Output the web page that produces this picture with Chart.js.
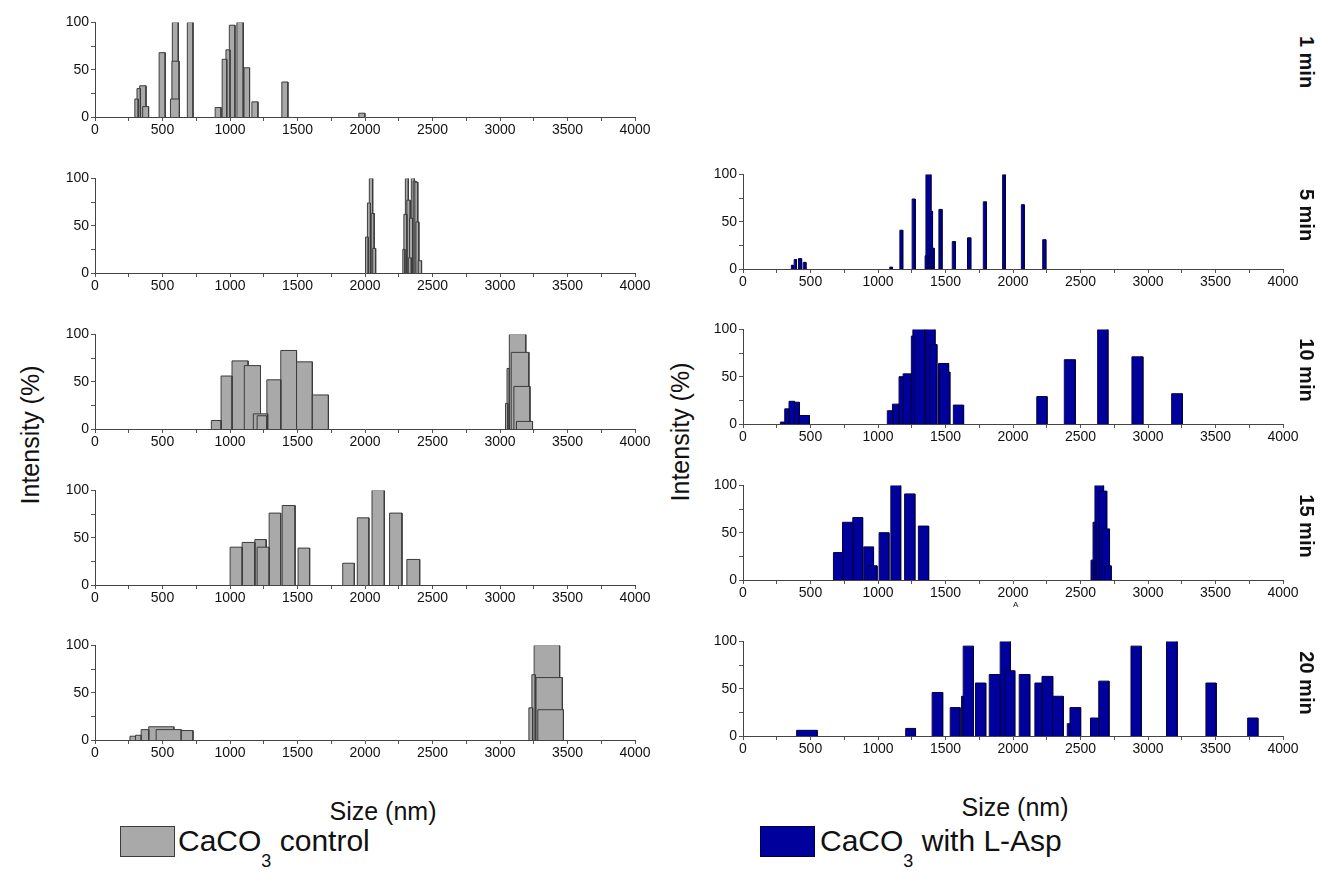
<!DOCTYPE html>
<html>
<head>
<meta charset="utf-8">
<script src="https://cdn.jsdelivr.net/npm/chart.js@4.4.1/dist/chart.umd.min.js"></script>
<style>
  html, body { margin: 0; padding: 0; background: #ffffff; }
  body { width: 1320px; height: 890px; position: relative; overflow: hidden; font-family: "Liberation Sans", Arial, sans-serif; color: #111; }
  canvas { position: absolute; }
  .lbl { position: absolute; white-space: nowrap; }
  .ylab { font-size: 25px; transform: translate(-50%, -50%) rotate(-90deg); }
  .xlab { font-size: 25px; transform: translate(-50%, -50%); }
  .time { font-size: 20px; font-weight: bold; transform: translate(-50%, -50%) rotate(90deg); }
  .leg { font-size: 30px; }
  .leg sub { font-size: 18px; position: relative; top: 16px; vertical-align: baseline; }
  .swatch { position: absolute; box-sizing: border-box; }
</style>
</head>
<body>
<script>
// ---------------- DATA ----------------
// Size axis ticks (nm) and intensity ticks (%)
const sizeTicks = [0, 500, 1000, 1500, 2000, 2500, 3000, 3500, 4000];
const intensityTicks = [0, 50, 100];
const timeLabels = ['1 min', '5 min', '10 min', '15 min', '20 min'];

// CaCO3 control: bin start (nm), bin end (nm), intensity (%)
const ctrl1From = [295, 311, 331, 353, 475, 559, 570, 573, 684, 890, 942, 970, 995, 1051, 1104, 1162, 1384, 1954];
const ctrl1To   = [320, 336, 378, 397, 520, 625, 623, 617, 726, 934, 976, 1000, 1037, 1098, 1145, 1207, 1429, 1999];
const ctrl1Val  = [19, 30, 33, 11, 68, 19, 59, 100, 100, 10, 61, 71, 97, 100, 52, 16, 37, 4];

const ctrl5From = [2004, 2018, 2032, 2046, 2057, 2280, 2288, 2299, 2310, 2321, 2330, 2343, 2357, 2369, 2377, 2394];
const ctrl5To   = [2024, 2040, 2057, 2068, 2079, 2296, 2310, 2321, 2335, 2343, 2352, 2366, 2379, 2391, 2399, 2419];
const ctrl5Val  = [38, 74, 100, 63, 26, 25, 62, 100, 77, 16, 58, 100, 97, 96, 54, 13];

const ctrl10From = [862, 934, 1015, 1106, 1173, 1201, 1273, 1376, 1493, 1610, 3041, 3052, 3069, 3083, 3103, 3122];
const ctrl10To   = [934, 1015, 1134, 1226, 1279, 1273, 1376, 1493, 1610, 1729, 3058, 3069, 3191, 3214, 3222, 3241];
const ctrl10Val  = [9, 56, 72, 67, 16, 14, 52, 83, 71, 36, 27, 64, 100, 81, 45, 8];

const ctrl15From = [1001, 1090, 1184, 1201, 1290, 1387, 1504, 1835, 1943, 2052, 2182, 2310];
const ctrl15To   = [1090, 1184, 1268, 1290, 1376, 1482, 1590, 1921, 2029, 2143, 2274, 2405];
const ctrl15Val  = [40, 45, 48, 40, 76, 84, 39, 23, 71, 100, 76, 27];

const ctrl20From = [259, 300, 342, 398, 453, 639, 3214, 3236, 3253, 3267, 3280];
const ctrl20To   = [300, 342, 398, 584, 639, 726, 3242, 3261, 3442, 3462, 3470];
const ctrl20Val  = [4, 5, 11, 14, 11, 10, 34, 69, 100, 66, 32];

// CaCO3 with L-Asp
const asp5From = [358, 379, 411, 446, 1087, 1162, 1253, 1349, 1355, 1384, 1398, 1451, 1550, 1663, 1780, 1923, 2062, 2220];
const asp5To   = [373, 396, 434, 466, 1107, 1183, 1276, 1369, 1392, 1404, 1416, 1474, 1573, 1687, 1803, 1943, 2083, 2243];
const asp5Val  = [4, 10, 11, 7, 2, 41, 74, 14, 100, 61, 22, 63, 29, 33, 71, 100, 68, 31];

const asp10From = [277, 309, 341, 382, 417, 1069, 1107, 1156, 1186, 1247, 1258, 1355, 1384, 1448, 1456, 1558, 2176, 2380, 2627, 2881, 3175];
const asp10To   = [309, 341, 382, 417, 492, 1113, 1156, 1188, 1247, 1270, 1349, 1422, 1436, 1523, 1532, 1634, 2252, 2461, 2703, 2962, 3254];
const asp10Val  = [2, 16, 24, 23, 9, 14, 21, 50, 53, 93, 100, 100, 84, 64, 55, 20, 29, 68, 100, 71, 32];

const asp15From = [670, 737, 813, 894, 926, 1008, 1095, 1197, 1299, 2578, 2593, 2607, 2636, 2657, 2680];
const asp15To   = [743, 813, 886, 967, 993, 1081, 1168, 1273, 1375, 2598, 2616, 2671, 2694, 2715, 2727];
const asp15Val  = [29, 61, 66, 35, 15, 50, 100, 91, 57, 21, 61, 100, 94, 54, 15];

const asp20From = [397, 1205, 1401, 1535, 1619, 1631, 1722, 1824, 1905, 1940, 2046, 2162, 2215, 2294, 2402, 2422, 2574, 2635, 2874, 3137, 3429, 3738];
const asp20To   = [549, 1278, 1479, 1608, 1633, 1707, 1798, 1906, 1981, 2013, 2124, 2215, 2294, 2372, 2425, 2501, 2635, 2711, 2950, 3216, 3505, 3814];
const asp20Val  = [6, 8, 46, 30, 42, 95, 56, 65, 100, 69, 65, 56, 63, 42, 13, 30, 19, 58, 95, 100, 56, 19];

// ---------------- LAYOUT / STYLE ----------------
const GRAY = { fill: '#a9a9a9', line: '#3c3c3c' };
const BLUE = { fill: '#00009c', line: '#00004a' };
const PLOT_W = 540, PLOT_H = 95, Y_AXIS_W = 40, PAD_TOP = 10, PAD_RIGHT = 22, X_AXIS_H = 22;
const tickFont = { family: '"Liberation Sans", Arial, sans-serif', size: 14 };

function addPanel(plotLeft, plotTop, from, to, val, style) {
  const cv = document.createElement('canvas');
  const w = Y_AXIS_W + PLOT_W + PAD_RIGHT;
  const h = PAD_TOP + PLOT_H + X_AXIS_H;
  cv.width = w; cv.height = h;
  cv.style.left = (plotLeft - Y_AXIS_W) + 'px';
  cv.style.top = (plotTop - PAD_TOP) + 'px';
  cv.style.width = w + 'px'; cv.style.height = h + 'px';
  document.body.appendChild(cv);

  const bins = from.map((f, i) => ({ a: f, b: to[i], v: val[i] }))
    .sort((p, q) => q.v - p.v);           // taller first, shorter drawn in front
  const datasets = bins.map(bn => ({
    data: [{ x: bn.a, y: 0 }, { x: bn.a, y: bn.v }, { x: bn.b, y: bn.v }, { x: bn.b, y: 0 }],
    showLine: true, fill: 'origin', tension: 0,
    backgroundColor: style.fill, borderColor: style.line, borderWidth: 1,
    pointRadius: 0, pointHoverRadius: 0
  })).reverse();                           // dataset 0 is painted last

  new Chart(cv, {
    type: 'scatter',
    data: { datasets },
    options: {
      responsive: false, animation: false, devicePixelRatio: 1,
      layout: { padding: { top: PAD_TOP, right: PAD_RIGHT, left: 0, bottom: 0 } },
      plugins: { legend: { display: false }, tooltip: { enabled: false } },
      events: [],
      scales: {
        x: {
          type: 'linear', min: sizeTicks[0], max: sizeTicks[sizeTicks.length - 1], z: 1,
          afterBuildTicks: s => {
            const t = [];
            for (let i = 0; i < sizeTicks.length; i++) {
              t.push({ value: sizeTicks[i] });
              if (i < sizeTicks.length - 1) t.push({ value: (sizeTicks[i] + sizeTicks[i + 1]) / 2, minor: true });
            }
            s.ticks = t;
          },
          ticks: { autoSkip: false, maxRotation: 0, padding: 1, color: '#111', font: tickFont,
                   callback: (v) => sizeTicks.includes(v) ? String(v) : '' },
          grid: { drawOnChartArea: false, tickLength: 4, color: '#555' },
          border: { color: '#444', width: 1 },
          afterFit: s => { s.height = X_AXIS_H; }
        },
        y: {
          type: 'linear', min: 0, max: 100, z: 1,
          afterBuildTicks: s => {
            s.ticks = [0, 25, 50, 75, 100].map(v => ({ value: v }));
          },
          ticks: { autoSkip: false, padding: 2, color: '#111', font: tickFont,
                   callback: (v) => intensityTicks.includes(v) ? String(v) : '' },
          grid: { drawOnChartArea: false, tickLength: 4, color: '#555' },
          border: { color: '#444', width: 1 },
          afterFit: s => { s.width = Y_AXIS_W; }
        }
      }
    }
  });
}

const leftTops = [22, 178, 334, 490, 645];
const rightTops = [174, 329, 485, 641];
addPanel(95, leftTops[0], ctrl1From, ctrl1To, ctrl1Val, GRAY);
addPanel(95, leftTops[1], ctrl5From, ctrl5To, ctrl5Val, GRAY);
addPanel(95, leftTops[2], ctrl10From, ctrl10To, ctrl10Val, GRAY);
addPanel(95, leftTops[3], ctrl15From, ctrl15To, ctrl15Val, GRAY);
addPanel(95, leftTops[4], ctrl20From, ctrl20To, ctrl20Val, GRAY);
addPanel(743, rightTops[0], asp5From, asp5To, asp5Val, BLUE);
addPanel(743, rightTops[1], asp10From, asp10To, asp10Val, BLUE);
addPanel(743, rightTops[2], asp15From, asp15To, asp15Val, BLUE);
addPanel(743, rightTops[3], asp20From, asp20To, asp20Val, BLUE);

// ---------------- TEXT ----------------
function addText(cls, html, x, y) {
  const d = document.createElement('div');
  d.className = 'lbl ' + cls;
  d.innerHTML = html;
  d.style.left = x + 'px'; d.style.top = y + 'px';
  document.body.appendChild(d);
  return d;
}
addText('ylab', 'Intensity (%)', 30, 435);
addText('ylab', 'Intensity (%)', 680, 432);
addText('xlab', 'Size (nm)', 383, 811);
addText('xlab', 'Size (nm)', 1015, 807);
const timeY = [62, 215, 370, 526, 683];
timeLabels.forEach((t, i) => addText('time', t, 1306, timeY[i]));
const a = addText('', 'A', 1013, 600); a.style.fontSize = '8px';

// Legend
function addSwatch(x, y, w, h, st) {
  const s = document.createElement('div');
  s.className = 'swatch';
  s.style.left = x + 'px'; s.style.top = y + 'px';
  s.style.width = w + 'px'; s.style.height = h + 'px';
  s.style.background = st.fill; s.style.border = '1.5px solid ' + st.line;
  document.body.appendChild(s);
}
addSwatch(120, 826, 55, 31, GRAY);
addSwatch(760, 826, 55, 31, BLUE);
addText('leg', 'CaCO<sub>3</sub> control', 178, 824);
addText('leg', 'CaCO<sub>3</sub> with L-Asp', 820, 824);
</script>
</body>
</html>
